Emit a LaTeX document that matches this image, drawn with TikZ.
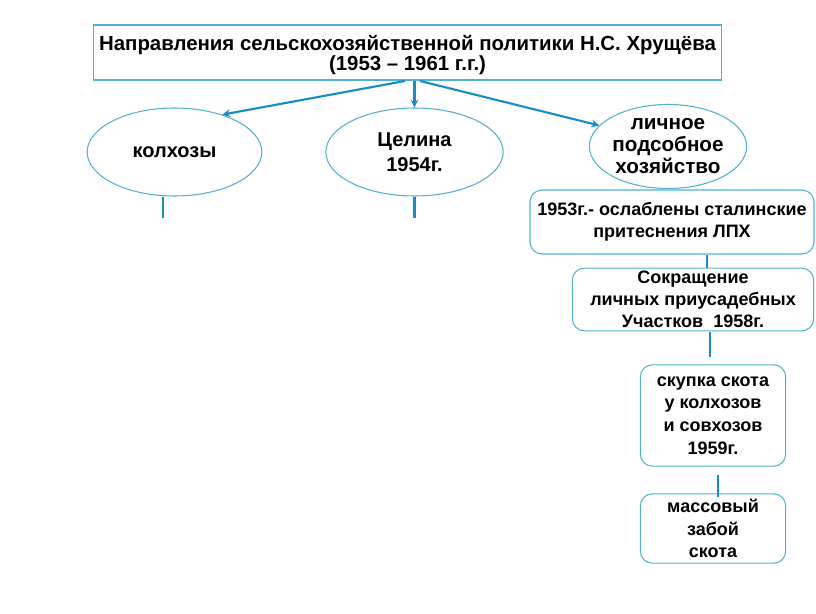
\documentclass[tikz,border=0pt]{standalone}
\usepackage{fontspec}
\setmainfont{Liberation Sans}
\usetikzlibrary{shapes}
\usetikzlibrary{arrows}
\usetikzlibrary{positioning}

\definecolor{rimblue}{RGB}{80,178,208}
\definecolor{linkblue}{RGB}{25,140,200}

\tikzset{
  oval/.style={ellipse,draw=rimblue,line width=0.8pt,inner sep=0pt,align=center,
    font=\fontsize{15}{18.5}\selectfont\bfseries},
  rbox/.style={rectangle,rounded corners=9pt,draw=rimblue,line width=0.8pt,inner sep=0pt,
    align=center,font=\fontsize{13.5}{16.5}\selectfont\bfseries},
  link/.style={draw=linkblue,line width=1.6pt,-stealth},
  stem/.style={draw=linkblue,line width=1.8pt}
}

\begin{document}
\begin{tikzpicture}[x=0.75pt,y=-0.75pt]
  \useasboundingbox (0,0) rectangle (816,613);
  \node[rectangle,draw=rimblue,line width=1.1pt,minimum width=471pt,minimum height=41pt] (title) at (407.5,52.5) {};
  \node[align=center,font=\fontsize{15.3}{15.5}\selectfont\bfseries] (titletext) at (407.5,55)
    {Направления сельскохозяйственной политики Н.С. Хрущёва\\(1953 -- 1961 г.г.)};
  \node[oval,minimum width=131pt,minimum height=66pt] (kolx) at (174.5,152) {колхозы};
  \node[oval,minimum width=133pt,minimum height=66pt] (cel) at (414.5,152) {Целина\\1954г.};
  \node[oval,minimum width=108pt,minimum height=63pt,
    font=\fontsize{15.5}{16.5}\selectfont\bfseries] (lich) at (668,146.5) {личное\\подсобное\\хозяйство};
  \node[rbox,minimum width=213pt,minimum height=48pt] (b1) at (672,222) {1953г.- ослаблены сталинские\\притеснения ЛПХ};
  \node[rbox,minimum width=181pt,minimum height=47pt] (b2) at (693,299.5) {Сокращение\\личных приусадебных\\Участков\ \ 1958г.};
  \node[rbox,minimum width=109pt,minimum height=76pt,
    font=\fontsize{13.5}{17}\selectfont\bfseries] (b3) at (713,415.5) {скупка скота\\у колхозов\\и совхозов\\1959г.};
  \node[rbox,minimum width=109pt,minimum height=52pt,
    font=\fontsize{13.5}{17}\selectfont\bfseries] (b4) at (713,528.5) {массовый\\забой\\скота};
  % arrows from the title
  \coordinate (t1) at (405,81);
  \coordinate (t0) at (414.5,81);
  \coordinate (t2) at (420,81);
  \draw[link] (t1) -- (kolx.38);
  \draw[link] (t0) -- (cel.north);
  \draw[link] (t2) -- (lich.163);
  % stems
  \coordinate (s1) at (163,218);
  \coordinate (s2) at (414.5,218);
  \draw[stem] (s1 |- kolx.south) -- (s1);
  \draw[stem] (cel.south) -- (s2);
  \coordinate (c1) at (707,0);
  \draw[stem] (b1.south -| c1) -- (b2.north -| c1);
  \coordinate (c2) at (710,332);
  \coordinate (c3) at (710,357);
  \draw[stem] (c2) -- (c3);
  \coordinate (c4) at (718,475);
  \coordinate (c5) at (718,497);
  \draw[stem] (c4) -- (c5);
\end{tikzpicture}
\end{document}
